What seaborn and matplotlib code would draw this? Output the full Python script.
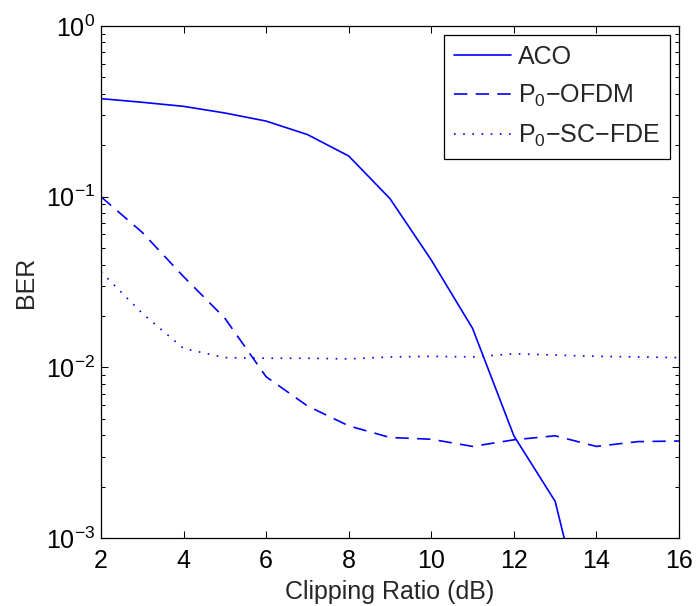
import matplotlib
matplotlib.use('Agg')
import numpy as np
import pandas as pd
import matplotlib.pyplot as plt
import seaborn as sns
from matplotlib.ticker import LogLocator, FuncFormatter, NullFormatter


# Values
clip_ratio = [2, 3, 4, 5, 6, 7, 8, 9, 10, 11, 12, 13, 14, 15, 16]
ber_aco = [0.375, 0.357, 0.338, 0.309, 0.277, 0.231, 0.173, 0.0973, 0.0425,
           0.0169, 0.00397, 0.00164, 0.00017, 0.00002, 0.000003]
ber_ofdm = [0.0998, 0.0617, 0.034, 0.0194, 0.0088, 0.00594, 0.00454, 0.00388,
            0.00379, 0.00344, 0.00376, 0.00397, 0.00344, 0.00367, 0.0037]
ber_scfde = [0.0363, 0.0207, 0.0129, 0.0114, 0.0113, 0.0113, 0.0112, 0.0115,
             0.0116, 0.0115, 0.0120, 0.0118, 0.0116, 0.0115, 0.0114]
series_names = ['ACO', 'P$_0$\u2212OFDM', 'P$_0$\u2212SC\u2212FDE']


def build_frame():
    frames = []
    for name, vals in zip(series_names, [ber_aco, ber_ofdm, ber_scfde]):
        frames.append(pd.DataFrame({'clip': clip_ratio, 'ber': vals, 'scheme': name}))
    return pd.concat(frames, ignore_index=True)


def setup_style():
    sns.set_theme(style='ticks')
    plt.rcParams['font.family'] = ['Liberation Sans', 'DejaVu Sans']
    plt.rcParams['mathtext.fontset'] = 'custom'
    plt.rcParams['mathtext.rm'] = 'Liberation Sans'
    plt.rcParams['mathtext.it'] = 'Liberation Sans:italic'
    plt.rcParams['mathtext.bf'] = 'Liberation Sans:bold'
    plt.rcParams['axes.unicode_minus'] = True


def plot_ber(df):
    fig = plt.figure(figsize=(6.96, 6.06), dpi=100)
    ax = fig.add_axes([0.1451, 0.1122, 0.8305, 0.845])

    blue = '#0000ff'
    sns.lineplot(data=df, x='clip', y='ber', hue='scheme', style='scheme',
                 palette=[blue, blue, blue],
                 dashes=['', (8, 5), (1, 4.5)],
                 linewidth=1.2, ax=ax)

    ax.set_yscale('log')
    ax.set_xlim(2, 16)
    ax.set_ylim(1e-3, 1)
    ax.set_xticks(range(2, 17, 2))
    ax.yaxis.set_major_locator(LogLocator(base=10, numticks=10))
    ax.yaxis.set_minor_locator(LogLocator(base=10, subs=np.arange(2, 10), numticks=20))
    ax.yaxis.set_minor_formatter(NullFormatter())
    ax.yaxis.set_major_formatter(FuncFormatter(
        lambda v, p: r'$\mathregular{10^{%d}}$' % int(round(np.log10(v)))))

    ax.set_xlabel('Clipping Ratio (dB)', fontsize=18, labelpad=5)
    ax.set_ylabel('BER', fontsize=18, labelpad=6)

    ax.tick_params(which='both', direction='in', top=True, right=True,
                   colors='black', labelsize=18, width=0.75)
    ax.tick_params(axis='x', which='major', length=5, pad=8)
    ax.tick_params(axis='y', which='major', length=5, pad=4)
    ax.tick_params(which='minor', length=3)
    for sp in ax.spines.values():
        sp.set_linewidth(0.9)
        sp.set_color('black')

    leg = ax.legend(loc='upper right', bbox_to_anchor=(0.984, 0.982),
                    borderaxespad=0, fontsize=18, fancybox=False,
                    framealpha=1, edgecolor='black', handlelength=2.3,
                    handletextpad=0.25, labelspacing=0.55, borderpad=0.4)
    leg.get_frame().set_linewidth(0.9)

    fig.savefig('out.png', dpi=100, facecolor='white')


def main():
    setup_style()
    df = build_frame()
    plot_ber(df)


if __name__ == "__main__":
    main()
